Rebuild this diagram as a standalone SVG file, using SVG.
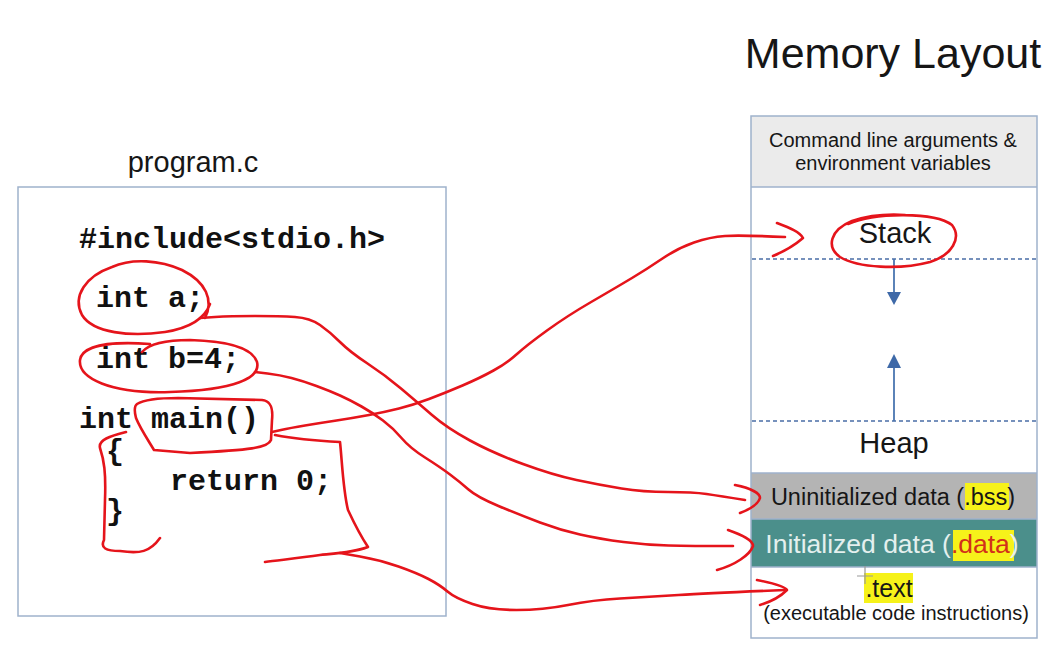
<svg xmlns="http://www.w3.org/2000/svg" width="1064" height="656" viewBox="0 0 1064 656">
<style>
.sans{font-family:"Liberation Sans",Arial,sans-serif;fill:#161616}
.mono{font-family:"Liberation Mono","Courier New",monospace;font-weight:bold;font-size:30px;fill:#111}
.frame{fill:none;stroke:#9fb2cc;stroke-width:1.5}
.dash{stroke:#4a6ea6;stroke-width:1.3;stroke-dasharray:4 3}
.blue{stroke:#4a75b0;stroke-width:1.8}
.pen{fill:none;stroke:#e5141b;stroke-width:2.6;stroke-linecap:round;stroke-linejoin:round}
.hl{fill:#f6f21a}
</style>
<rect width="1064" height="656" fill="#ffffff"/>

<text class="sans" x="893" y="68" font-size="43" text-anchor="middle">Memory Layout</text>

<g id="program">
  <text class="sans" x="193" y="172" font-size="29" text-anchor="middle">program.c</text>
  <rect class="frame" x="18" y="187" width="428" height="429"/>
  <text class="mono" x="79" y="248">#include&lt;stdio.h&gt;</text>
  <text class="mono" x="96" y="307">int a;</text>
  <text class="mono" x="96" y="368">int b=4;</text>
  <text class="mono" x="79" y="428">int main()</text>
  <text class="mono" x="106" y="460">{</text>
  <text class="mono" x="170" y="490">return 0;</text>
  <text class="mono" x="106" y="520">}</text>
</g>

<g id="memory">
  <rect x="751" y="116" width="286" height="71" fill="#ebebeb"/>
  <rect x="751" y="473" width="286" height="46" fill="#b4b4b4"/>
  <rect x="751" y="519" width="286" height="48" fill="#4b8f8b"/>
  <line class="frame" x1="751" y1="187" x2="1037" y2="187"/>
  <line class="frame" x1="751" y1="473" x2="1037" y2="473"/>
  <line class="frame" x1="751" y1="519" x2="1037" y2="519"/>
  <line class="frame" x1="751" y1="567" x2="1037" y2="567"/>
  <rect class="frame" x="751" y="116" width="286" height="522"/>
  <line class="dash" x1="752" y1="259" x2="1036" y2="259"/>
  <line class="dash" x1="752" y1="421" x2="1036" y2="421"/>
  <line class="blue" x1="894" y1="259" x2="894" y2="293"/>
  <polygon points="887,292 901,292 894,305" fill="#3e69a8"/>
  <line class="blue" x1="894" y1="367" x2="894" y2="421"/>
  <polygon points="887,368 901,368 894,354" fill="#3e69a8"/>

  <text class="sans" x="893" y="147" font-size="20" text-anchor="middle">Command line arguments &amp;</text>
  <text class="sans" x="893" y="170" font-size="20" text-anchor="middle">environment variables</text>
  <text class="sans" x="895" y="243" font-size="29" text-anchor="middle">Stack</text>
  <text class="sans" x="894" y="453" font-size="29" text-anchor="middle">Heap</text>

  <rect class="hl" x="965" y="483" width="44" height="27"/>
  <text class="sans" x="893" y="505" font-size="23.5" text-anchor="middle">Uninitialized data (.bss)</text>

  <rect class="hl" x="953" y="530" width="61" height="31"/>
  <text class="sans" x="892" y="553" font-size="26.5" text-anchor="middle" style="fill:#e4f0ee">Initialized data (<tspan style="fill:#d2301a">.data</tspan>)</text>

  <rect class="hl" x="864" y="573" width="49" height="30"/>
  <text class="sans" x="889" y="597" font-size="25" text-anchor="middle">.text</text>
  <text class="sans" x="896" y="620" font-size="20" text-anchor="middle">(executable code instructions)</text>
  <path d="M857 576 H873 M865 566 V584" stroke="#9a9a9a" stroke-width="1.2" fill="none"/>
</g>

<g id="annotations">
  <path class="pen" d="M205 318 C214 300 206 282 182 270 C160 260 132 258 112 267 C86 276 72 296 82 315 C93 333 130 337 165 332 C190 328 205 318 210 304"/>
  <path class="pen" d="M142 352 C150 343 170 340 190 340 C225 341 252 347 257 362 C261 378 235 390 170 392 C110 394 78 378 80 360 C82 346 108 341 150 344"/>
  <path class="pen" d="M137 404 C145 399 160 398 178 398 L262 400 C272 401 273 410 272 420 L271 440 C268 448 250 450 190 453 L154 450 C148 440 140 428 136 418 C134 410 134 406 137 404"/>
  <path class="pen" d="M126 432 C110 436 98 440 100 448 C104 460 106 472 105 500 L104 540 C100 548 106 551 120 551 C140 554 150 552 160 538"/>
  <path class="pen" d="M275 435 C300 440 320 441 340 442 C342 460 343 490 348 510 C355 525 362 538 368 547 C355 552 340 553 320 555 C300 558 280 560 265 562"/>
  <path class="pen" d="M848 224 C875 212 935 212 952 225 C962 238 952 255 930 262 C900 270 858 268 840 257 C826 247 830 230 852 221 C870 215 890 214 905 215"/>
</g>

<g id="connectors">
  <path class="pen" d="M200 318 L215 317 Q230 316 255 316 Q280 316 295 317 Q310 318 320 325 Q330 332 340 342 Q350 352 367.5 363.5 Q385 375 401 388.5 Q417 402 432 415 Q447 428 470 440.5 Q493 453 523 464 Q553 475 576.5 480 Q600 485 621.5 488.5 Q643 492 668 492 Q693 492 706.5 494 Q720 496 745 500"/>
  <path class="pen" d="M735 485 C750 488 760 493 760 498 C758 505 748 510 740 513"/>
  <path class="pen" d="M255 372 L267.5 373.5 Q280 375 291.5 378 Q303 381 316.5 386 Q330 391 340 395.5 Q350 400 361.5 406.5 Q373 413 383 420.5 Q393 428 401.5 438 Q410 448 425 457.5 Q440 467 450 474.5 Q460 482 468.5 489.5 Q477 497 498.5 506 Q520 515 540 522.5 Q560 530 580 534.5 Q600 539 623.5 542 Q647 545 668.5 545.5 Q690 546 733 546"/>
  <path class="pen" d="M728 530 C742 535 753 540 753 546 C750 555 735 565 717 570"/>
  <path class="pen" d="M272 432 L281 430 Q290 428 305 425.5 Q320 423 336.5 420.5 Q353 418 369 415 Q385 412 399 408.5 Q413 405 429 399 Q445 393 462.5 385.5 Q480 378 493.5 370.5 Q507 363 517 354 Q527 345 547 330.5 Q567 316 592 301.5 Q617 287 632 278 Q647 269 662.5 258.5 Q678 248 694 242.5 Q710 237 725 236 Q740 235 785 237"/>
  <path class="pen" d="M777 223 C790 228 800 232 803 238 C795 245 785 251 773 256"/>
  <path class="pen" d="M340 553 L360 556.5 Q380 560 398.5 566.5 Q417 573 428.5 579 Q440 585 447.5 591.5 Q455 598 472.5 604 Q490 610 516.5 610 Q543 610 568 605 Q593 600 620 598.5 Q647 597 678.5 595 Q710 593 785 590"/>
  <path class="pen" d="M757 580 C772 583 785 586 787 590 C780 597 770 602 760 605"/>
</g>
</svg>
